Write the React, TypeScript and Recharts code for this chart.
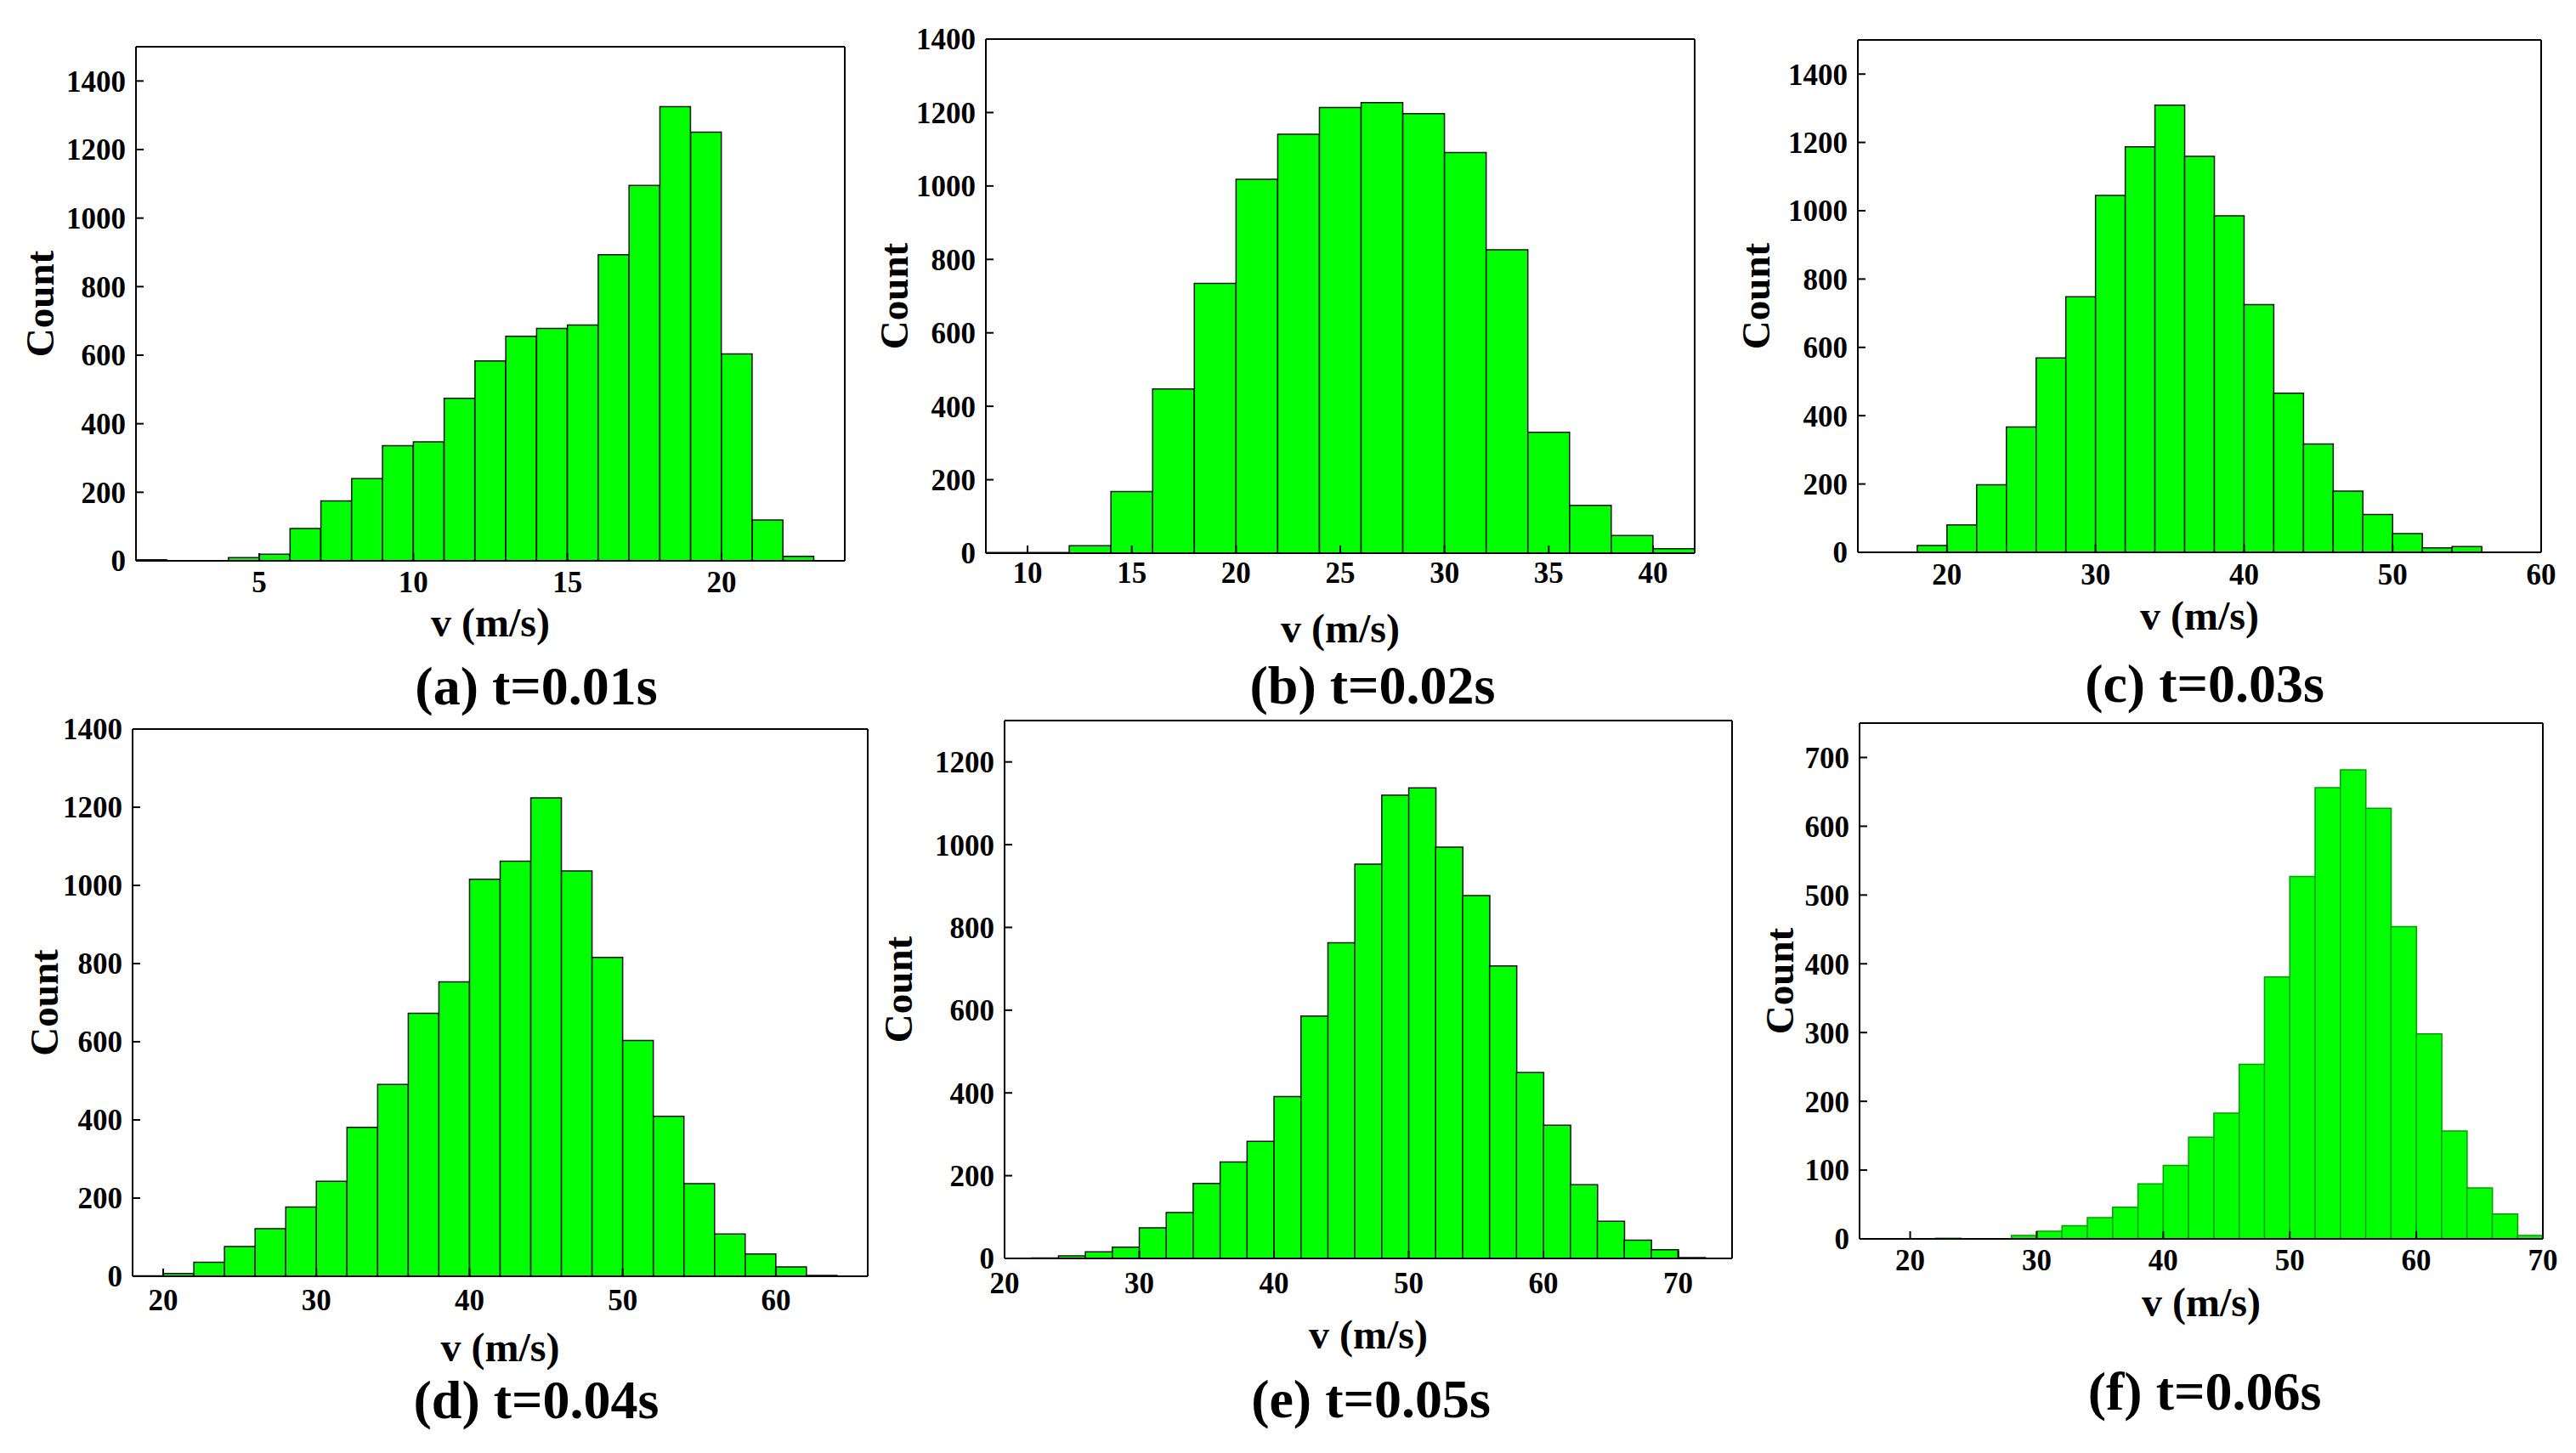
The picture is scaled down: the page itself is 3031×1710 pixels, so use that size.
import React from 'react';
import { BarChart, Bar, XAxis, YAxis, Label } from 'recharts';

// ---------- data ----------
const aBins = [1.5, 2.5, 3.5, 4.5, 5.5, 6.5, 7.5, 8.5, 9.5, 10.5, 11.5, 12.5, 13.5, 14.5, 15.5, 16.5, 17.5, 18.5, 19.5, 20.5, 21.5, 22.5];
const aCounts = [3, 0, 0, 9, 19, 94, 175, 240, 336, 347, 474, 583, 655, 678, 688, 893, 1095, 1325, 1251, 604, 119, 13];
const aXTicks = [5, 10, 15, 20];
const aYTicks = [0, 200, 400, 600, 800, 1000, 1200, 1400];

const bBins = [9, 11, 13, 15, 17, 19, 21, 23, 25, 27, 29, 31, 33, 35, 37, 39, 41];
const bCounts = [2, 2, 20, 168, 447, 735, 1018, 1141, 1214, 1227, 1197, 1091, 826, 329, 130, 48, 12];
const bXTicks = [10, 15, 20, 25, 30, 35, 40];
const bYTicks = [0, 200, 400, 600, 800, 1000, 1200, 1400];

const cBins = [15, 17, 19, 21, 23, 25, 27, 29, 31, 33, 35, 37, 39, 41, 43, 45, 47, 49, 51, 53, 55, 57, 59];
const cCounts = [0, 0, 20, 80, 198, 367, 569, 748, 1045, 1187, 1309, 1159, 985, 725, 466, 317, 179, 111, 55, 13, 17, 0, 0];
const cXTicks = [20, 30, 40, 50, 60];
const cYTicks = [0, 200, 400, 600, 800, 1000, 1200, 1400];

const dBins = [19, 21, 23, 25, 27, 29, 31, 33, 35, 37, 39, 41, 43, 45, 47, 49, 51, 53, 55, 57, 59, 61, 63, 65];
const dCounts = [1, 7, 36, 76, 122, 177, 243, 381, 491, 673, 753, 1016, 1062, 1224, 1037, 816, 603, 409, 237, 108, 57, 24, 2, 0];
const dXTicks = [20, 30, 40, 50, 60];
const dYTicks = [0, 200, 400, 600, 800, 1000, 1200, 1400];

const eBins = [21, 23, 25, 27, 29, 31, 33, 35, 37, 39, 41, 43, 45, 47, 49, 51, 53, 55, 57, 59, 61, 63, 65, 67, 69, 71, 73];
const eCounts = [0, 1, 6, 16, 27, 74, 111, 181, 233, 283, 391, 586, 763, 953, 1120, 1137, 994, 877, 707, 449, 322, 178, 90, 44, 21, 2, 0];
const eXTicks = [20, 30, 40, 50, 60, 70];
const eYTicks = [0, 200, 400, 600, 800, 1000, 1200];

const fBins = [17, 19, 21, 23, 25, 27, 29, 31, 33, 35, 37, 39, 41, 43, 45, 47, 49, 51, 53, 55, 57, 59, 61, 63, 65, 67, 69];
const fCounts = [0, 0, 0, 1, 0, 0, 5, 11, 19, 31, 46, 80, 107, 148, 183, 254, 381, 527, 656, 682, 626, 454, 298, 157, 74, 36, 5];
const fXTicks = [20, 30, 40, 50, 60, 70];
const fYTicks = [0, 100, 200, 300, 400, 500, 600, 700];

const captions = ['(a) t=0.01s', '(b) t=0.02s', '(c) t=0.03s', '(d) t=0.04s', '(e) t=0.05s', '(f) t=0.06s'];
const xTitle = 'v (m/s)';
const yTitle = 'Count';

// ---------- layout ----------
const FONT = '"Liberation Serif", "Times New Roman", serif';
const TICK_LEN = 9;
const PAD_L = 185;
const PAD_R = 20;
const PAD_T = 20;
const PAD_B = 130;

type PanelCfg = {
  bins: number[];
  counts: number[];
  xDomain: [number, number];
  xTicks: number[];
  yDomain: [number, number];
  yTicks: number[];
  caption: string;
  L: number; R: number; T: number; B: number;
  countX: number;
  xTitleY: number;
  capX: number; capY: number;
  tickOff: number;
  stroke: string;
};

const panels: PanelCfg[] = [
  { bins: aBins, counts: aCounts, xDomain: [1, 24], xTicks: aXTicks, yDomain: [0, 1500], yTicks: aYTicks, caption: captions[0],
    L: 160, R: 994, T: 55, B: 660, countX: 47, xTitleY: 732, capX: 631, capY: 808, tickOff: 25, stroke: '#111' },
  { bins: bBins, counts: bCounts, xDomain: [8, 42], xTicks: bXTicks, yDomain: [0, 1400], yTicks: bYTicks, caption: captions[1],
    L: 1160, R: 1994, T: 46, B: 651, countX: 1052, xTitleY: 739, capX: 1615, capY: 807, tickOff: 23, stroke: '#111' },
  { bins: cBins, counts: cCounts, xDomain: [14, 60], xTicks: cXTicks, yDomain: [0, 1500], yTicks: cYTicks, caption: captions[2],
    L: 2186, R: 2990, T: 47, B: 650, countX: 2066, xTitleY: 724, capX: 2594, capY: 805, tickOff: 26, stroke: '#111' },
  { bins: dBins, counts: dCounts, xDomain: [18, 66], xTicks: dXTicks, yDomain: [0, 1400], yTicks: dYTicks, caption: captions[3],
    L: 156, R: 1021, T: 858, B: 1502, countX: 52, xTitleY: 1585, capX: 631, capY: 1648, tickOff: 28, stroke: '#111' },
  { bins: eBins, counts: eCounts, xDomain: [20, 74], xTicks: eXTicks, yDomain: [0, 1300], yTicks: eYTicks, caption: captions[4],
    L: 1182, R: 2038, T: 848, B: 1481, countX: 1057, xTitleY: 1570, capX: 1613, capY: 1647, tickOff: 29, stroke: '#111' },
  { bins: fBins, counts: fCounts, xDomain: [16, 70], xTicks: fXTicks, yDomain: [0, 750], yTicks: fYTicks, caption: captions[5],
    L: 2188, R: 2992, T: 851, B: 1458, countX: 2094, xTitleY: 1532, capX: 2594, capY: 1638, tickOff: 25, stroke: '#0a9a0a' },
];

const tickStyle = { fontSize: 35, fontWeight: 700, fontFamily: FONT, fill: '#000' };

function YTitle(props: any) {
  const { viewBox, cx } = props;
  const cy = viewBox.y + viewBox.height / 2;
  return (
    <text x={cx} y={cy} transform={`rotate(-90 ${cx} ${cy})`} textAnchor="middle" dominantBaseline="central"
      style={{ fontSize: 47, fontWeight: 700, fontFamily: FONT, fill: '#000' }}>{yTitle}</text>
  );
}

function XTitle(props: any) {
  const { viewBox, cy } = props;
  const cx = viewBox.x + viewBox.width / 2;
  return (
    <text x={cx} y={cy} textAnchor="middle" dominantBaseline="central"
      style={{ fontSize: 48, fontWeight: 700, fontFamily: FONT, fill: '#000' }}>{xTitle}</text>
  );
}

function Panel({ p }: { p: PanelCfg }) {
  const data = p.bins.map((v, i) => ({ v, count: p.counts[i] }));
  const left = p.L - PAD_L;
  const top = p.T - PAD_T;
  const W = p.R - p.L + PAD_L + PAD_R;
  const H = p.B - p.T + PAD_T + PAD_B;
  const yAxisW = PAD_L - 10;
  const bottomH = PAD_B - 10;
  const tickMargin = TICK_LEN + (p.tickOff - 13);
  return (
    <div style={{ position: 'absolute', left, top, width: W, height: H }}>
      <BarChart width={W} height={H} data={data} barCategoryGap={0} barGap={0}
        margin={{ top: PAD_T - 1, right: PAD_R - 1, bottom: 10, left: 10 }}>
        <XAxis dataKey="v" type="number" domain={p.xDomain} ticks={p.xTicks} allowDataOverflow
          interval={0} height={bottomH} tickSize={-TICK_LEN} tickMargin={tickMargin}
          axisLine={{ stroke: '#000', strokeWidth: 2 }} tickLine={{ stroke: '#000', strokeWidth: 2 }} tick={tickStyle}>
          <Label content={(lp: any) => <XTitle {...lp} cy={p.xTitleY - top} />} />
        </XAxis>
        <XAxis xAxisId="top" orientation="top" dataKey="v" type="number" domain={p.xDomain} ticks={p.xTicks} allowDataOverflow
          interval={0} height={1} tickSize={-TICK_LEN} tick={false}
          axisLine={{ stroke: '#000', strokeWidth: 2 }} tickLine={{ stroke: '#000', strokeWidth: 2 }} />
        <YAxis type="number" domain={p.yDomain} ticks={p.yTicks} allowDataOverflow interval={0}
          width={yAxisW} tickSize={-TICK_LEN} tickMargin={TICK_LEN + 12}
          axisLine={{ stroke: '#000', strokeWidth: 2 }} tickLine={{ stroke: '#000', strokeWidth: 2 }} tick={tickStyle}>
          <Label content={(lp: any) => <YTitle {...lp} cx={p.countX - left} />} />
        </YAxis>
        <YAxis yAxisId="right" orientation="right" type="number" domain={p.yDomain} ticks={p.yTicks} allowDataOverflow interval={0}
          width={1} tickSize={-TICK_LEN} tick={false}
          axisLine={{ stroke: '#000', strokeWidth: 2 }} tickLine={{ stroke: '#000', strokeWidth: 2 }} />
        <Bar dataKey="count" fill="#00ff00" stroke={p.stroke} strokeWidth={1.5} isAnimationActive={false} />
      </BarChart>
      <div style={{
        position: 'absolute', left: p.capX - left, top: p.capY - top, transform: 'translate(-50%, -50%)',
        fontFamily: FONT, fontWeight: 700, fontSize: 64, lineHeight: 1, whiteSpace: 'nowrap', color: '#000',
      }}>{p.caption}</div>
    </div>
  );
}

export default function App() {
  return (
    <div style={{ position: 'absolute', left: 0, top: 0, width: 3031, height: 1710, background: '#fff', overflow: 'hidden' }}>
      {panels.map((p, i) => <Panel key={i} p={p} />)}
    </div>
  );
}
